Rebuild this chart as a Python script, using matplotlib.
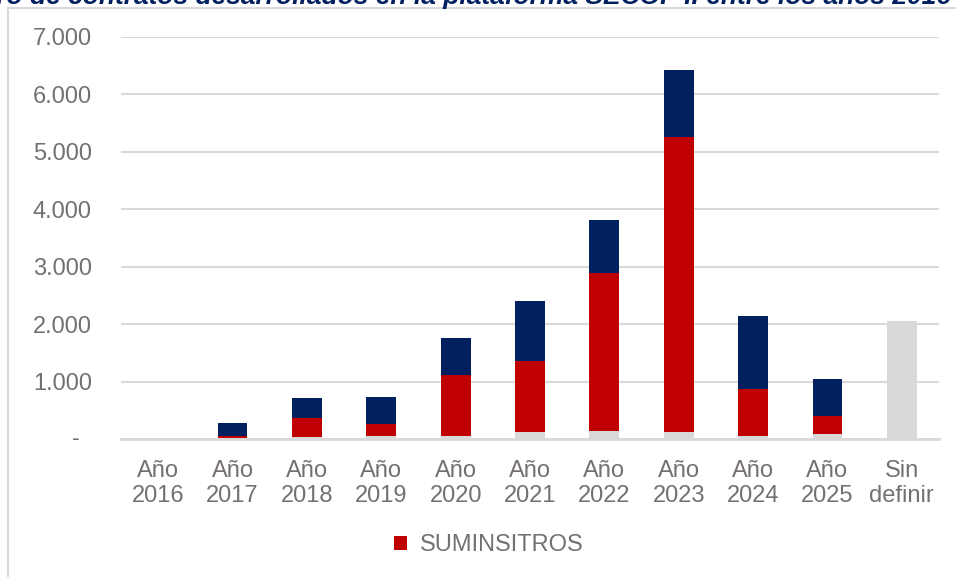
import matplotlib.pyplot as plt
from matplotlib.patches import Patch, Rectangle

plt.rcParams['font.family'] = ['Liberation Sans', 'DejaVu Sans']

# data (stacked: base gray, red, navy)
categories = ["Año\n2016", "Año\n2017", "Año\n2018", "Año\n2019", "Año\n2020",
              "Año\n2021", "Año\n2022", "Año\n2023", "Año\n2024", "Año\n2025",
              "Sin\ndefinir"]
base_vals = [10, 10, 30, 50, 57, 115, 145, 115, 57, 87, 2062]
suministros = [0, 37, 330, 211, 1058, 1237, 2747, 5139, 807, 319, 0]
top_vals = [0, 232, 349, 471, 650, 1052, 928, 1176, 1272, 639, 0]
yticks = [0, 1000, 2000, 3000, 4000, 5000, 6000, 7000]
ytick_labels = ["", "1.000", "2.000", "3.000", "4.000", "5.000", "6.000", "7.000"]

GRAY = "#D9D9D9"
RED = "#C00000"
NAVY = "#002060"
TXT = "#757070"

fig = plt.figure(figsize=(9.56, 5.77), dpi=100)
ax = fig.add_axes([0.1266, 0.2392, 0.8556, 0.6967])

x = list(range(len(categories)))
w = 0.4
ax.bar(x, base_vals, width=w, color=GRAY, zorder=2)
red_bottom = base_vals
ax.bar(x, suministros, width=w, bottom=red_bottom, color=RED, zorder=2)
navy_bottom = [a + b for a, b in zip(base_vals, suministros)]
ax.bar(x, top_vals, width=w, bottom=navy_bottom, color=NAVY, zorder=2)

ax.set_xlim(-0.5, len(categories) - 0.5)
ax.set_ylim(0, 7000)
ax.set_yticks(yticks)
ax.set_yticklabels(ytick_labels)
ax.set_xticks(x)
ax.set_xticklabels(categories, linespacing=1.2)

ax.tick_params(axis="y", length=0, pad=21, labelsize=17, labelcolor=TXT)
ax.tick_params(axis="x", length=0, pad=15, labelsize=17, labelcolor=TXT)
ax.text(-0.055, 0, "-", transform=ax.get_yaxis_transform(), ha="center",
        va="center", fontsize=17, color=TXT)

ax.grid(axis="y", color=GRAY, linewidth=1.5, zorder=0)
ax.set_axisbelow(True)
for s in ["top", "right", "left"]:
    ax.spines[s].set_visible(False)
ax.spines["bottom"].set_color(GRAY)
ax.spines["bottom"].set_linewidth(2)
ax.spines["bottom"].set_zorder(3)

ax.legend(handles=[Patch(facecolor=RED, label="SUMINSITROS")],
          loc="center", bbox_to_anchor=(0.5115, 0.0555),
          bbox_transform=fig.transFigure, frameon=False, fontsize=17,
          handlelength=0.55, handleheight=0.55, handletextpad=0.55,
          labelcolor=TXT)

# chart frame and clipped title, as in the cropped source
fig.patches.append(Rectangle((8 / 956, -0.1), 1.2, 1 - 8 / 577 + 0.1,
                             transform=fig.transFigure, fill=False,
                             edgecolor=GRAY, linewidth=1.5))
fig.text(951 / 956, 1 - 4 / 577,
         "Número de contratos desarrollados en la plataforma SECOP II entre los años 2016",
         ha="right", va="baseline", fontsize=19, fontweight="bold",
         fontstyle="italic", color=NAVY)

fig.savefig("out.png", dpi=100)
